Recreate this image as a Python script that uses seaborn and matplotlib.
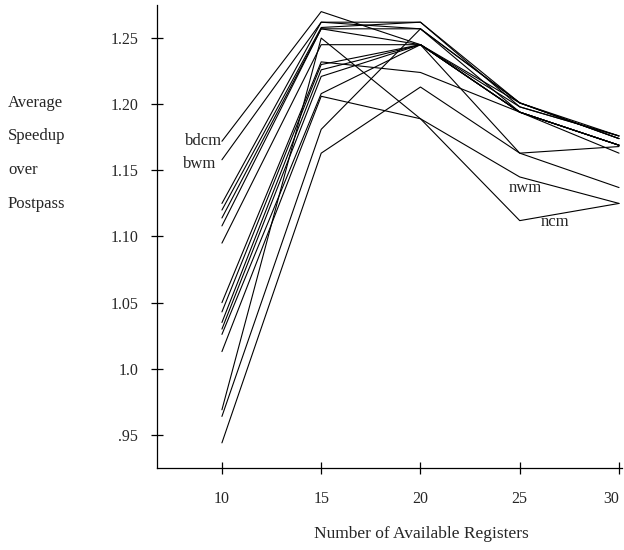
import matplotlib
matplotlib.use("Agg")
import matplotlib.pyplot as plt
import seaborn as sns
import pandas as pd

registers = [10, 15, 20, 25, 30]

# average speedup per configuration
speedups = {
    "bdcm": [1.172, 1.270, 1.245, 1.194, 1.169],
    "bwm":  [1.158, 1.262, 1.262, 1.201, 1.176],
    "l3":   [1.125, 1.262, 1.257, 1.201, 1.174],
    "l4":   [1.120, 1.258, 1.262, 1.198, 1.176],
    "l5":   [1.114, 1.257, 1.257, 1.194, 1.169],
    "l6":   [1.108, 1.257, 1.245, 1.163, 1.168],
    "l7":   [1.095, 1.245, 1.245, 1.194, 1.169],
    "l8":   [1.050, 1.232, 1.224, 1.194, 1.163],
    "l9":   [1.043, 1.230, 1.245, 1.194, 1.169],
    "l10":  [1.035, 1.226, 1.245, 1.201, 1.174],
    "l11":  [1.030, 1.221, 1.245, 1.194, 1.169],
    "l12":  [1.026, 1.208, 1.245, 1.198, 1.176],
    "nwm":  [1.013, 1.206, 1.189, 1.145, 1.125],
    "ncm":  [0.969, 1.250, 1.189, 1.112, 1.125],
    "l15":  [0.964, 1.181, 1.257, 1.201, 1.174],
    "l16":  [0.944, 1.163, 1.213, 1.163, 1.137],
}

y_ticks = [0.95, 1.0, 1.05, 1.10, 1.15, 1.20, 1.25]
y_ticklabels = [".95", "1.0", "1.05", "1.10", "1.15", "1.20", "1.25"]

rows = []
for name, vals in speedups.items():
    for r, v in zip(registers, vals):
        rows.append({"config": name, "registers": r, "speedup": v})
df = pd.DataFrame(rows)

sns.set_style("ticks")
plt.rcParams["font.family"] = ["Liberation Serif", "DejaVu Serif"]

fig = plt.figure(figsize=(6.24, 5.5), dpi=100)
ax = fig.add_axes([157 / 624, 1 - 468 / 550, 465 / 624, 463 / 550])

sns.lineplot(data=df, x="registers", y="speedup", units="config",
             estimator=None, color="black", linewidth=0.8, ax=ax)

ax.set_xlim(6.73, 30.15)
ax.set_ylim(0.925, 1.275)
ax.set_xticks(registers)
ax.set_yticks(y_ticks)
ax.set_yticklabels(y_ticklabels)
ax.tick_params(direction="inout", length=9, width=0.9, labelsize=11.5, color="black")
ax.tick_params(axis="y", pad=9)
ax.tick_params(axis="x", pad=12)
ax.get_xticklabels()[-1].set_horizontalalignment("right")
for s in ["top", "right"]:
    ax.spines[s].set_visible(False)
for s in ["left", "bottom"]:
    ax.spines[s].set_linewidth(0.9)
    ax.spines[s].set_color("black")

ax.set_xlabel("Number of Available Registers", fontsize=12.5)
ax.xaxis.set_label_coords((421 - 157) / 465, -(526 - 468) / 463)
ax.set_ylabel("")

for i, word in enumerate(["Average", "Speedup", "over", "Postpass"]):
    fig.text(8 / 624, 1 - (103 + 33.5 * i) / 550, word, fontsize=12,
             ha="left", va="center")

ax.text(10.02, 1.172, "bdcm", fontsize=12, ha="right", va="center")
ax.text(9.7, 1.155, "bwm", fontsize=12, ha="right", va="center")
ax.text(25.26, 1.1366, "nwm", fontsize=12, ha="center", va="center")
ax.text(26.77, 1.111, "ncm", fontsize=12, ha="center", va="center")

fig.savefig("out.png", dpi=100)
